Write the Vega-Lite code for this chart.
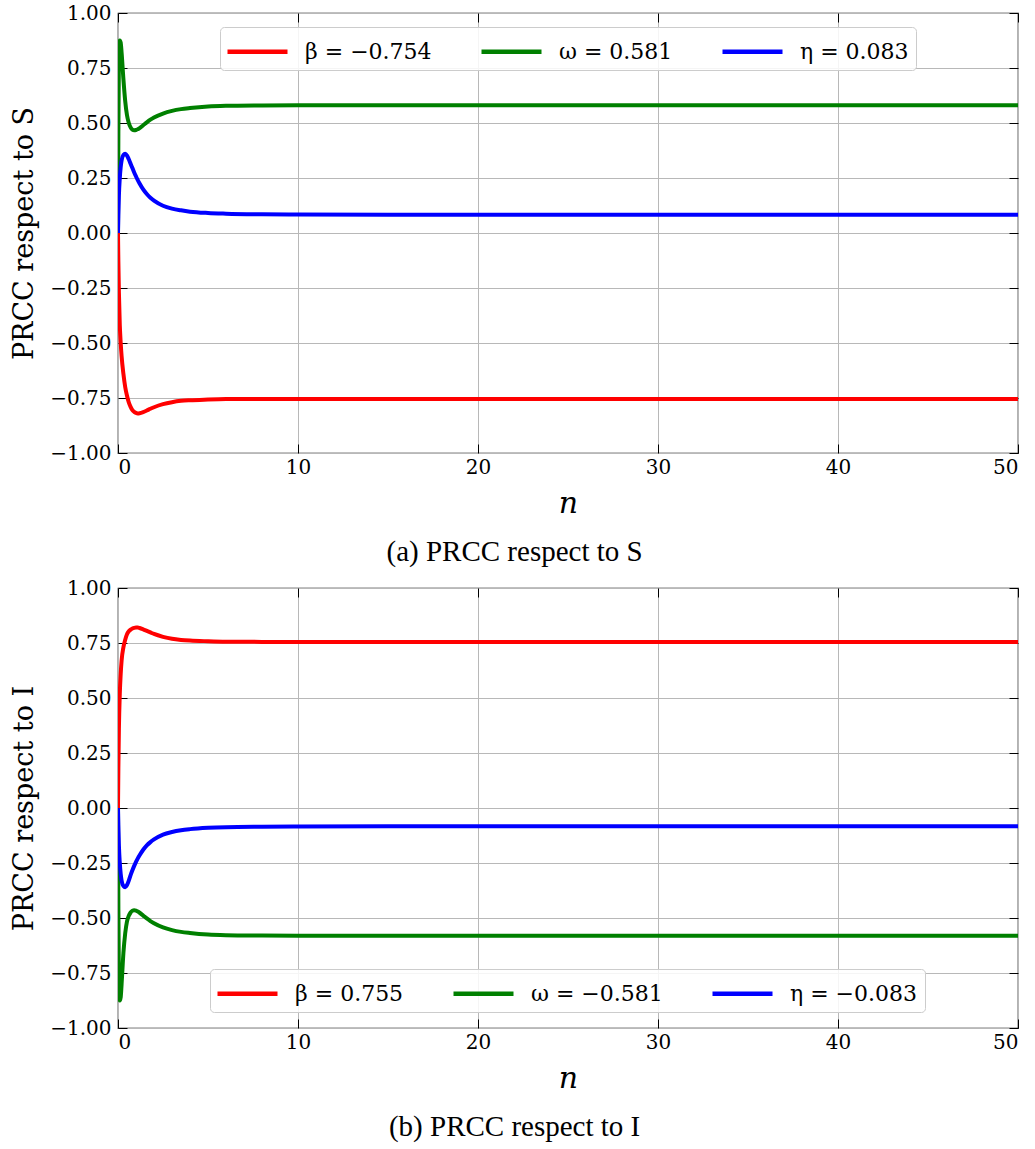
{
  "$schema": "https://vega.github.io/schema/vega-lite/v6.json",
  "background": "white",
  "padding": {"left": 10, "top": 2, "right": 6, "bottom": 5},
  "spacing": 9,
  "config": {
    "view": {"stroke": "black", "strokeWidth": 1.2},
    "axis": {
      "grid": true, "gridColor": "#b8b8b8", "gridWidth": 1,
      "domain": false, "tickSize": -9, "tickColor": "black", "tickWidth": 1,
      "labelColor": "black", "titleFontWeight": "normal", "titleColor": "black"
    },
    "legend": {
      "orient": "none", "direction": "horizontal", "title": null,
      "symbolType": "M-2,0H2", "symbolSize": 900, "symbolStrokeWidth": 4.5,
      "symbolOffset": 13, "labelOffset": 30, "columnPadding": 40,
      "labelColor": "black",
      "fillColor": "rgba(255,255,255,0.85)", "strokeColor": "#cccccc", "cornerRadius": 4, "padding": 7
    },
    "title": {"font": "Liberation Serif", "fontSize": 29, "fontWeight": "normal", "color": "black"}
  },
  "datasets": {
    "S": [
      {"p":"β = −0.754","n":0,"v":0},{"p":"β = −0.754","n":0.02,"v":-0.13},{"p":"β = −0.754","n":0.05,"v":-0.27},{"p":"β = −0.754","n":0.1,"v":-0.42},{"p":"β = −0.754","n":0.15,"v":-0.5},{"p":"β = −0.754","n":0.2,"v":-0.56},{"p":"β = −0.754","n":0.3,"v":-0.64},{"p":"β = −0.754","n":0.4,"v":-0.7},{"p":"β = −0.754","n":0.5,"v":-0.74},{"p":"β = −0.754","n":0.6,"v":-0.77},{"p":"β = −0.754","n":0.7,"v":-0.79},{"p":"β = −0.754","n":0.8,"v":-0.805},{"p":"β = −0.754","n":0.9,"v":-0.813},{"p":"β = −0.754","n":1.0,"v":-0.818},{"p":"β = −0.754","n":1.1,"v":-0.82},{"p":"β = −0.754","n":1.2,"v":-0.819},{"p":"β = −0.754","n":1.4,"v":-0.814},{"p":"β = −0.754","n":1.6,"v":-0.807},{"p":"β = −0.754","n":1.8,"v":-0.799},{"p":"β = −0.754","n":2.0,"v":-0.792},{"p":"β = −0.754","n":2.5,"v":-0.778},{"p":"β = −0.754","n":3,"v":-0.769},{"p":"β = −0.754","n":3.5,"v":-0.763},{"p":"β = −0.754","n":4,"v":-0.76},{"p":"β = −0.754","n":5,"v":-0.757},{"p":"β = −0.754","n":6,"v":-0.755},{"p":"β = −0.754","n":8,"v":-0.754},{"p":"β = −0.754","n":10,"v":-0.754},{"p":"β = −0.754","n":15,"v":-0.754},{"p":"β = −0.754","n":20,"v":-0.754},{"p":"β = −0.754","n":30,"v":-0.754},{"p":"β = −0.754","n":40,"v":-0.754},{"p":"β = −0.754","n":50,"v":-0.754},
      {"p":"ω = 0.581","n":0,"v":0},{"p":"ω = 0.581","n":0.02,"v":0.45},{"p":"ω = 0.581","n":0.05,"v":0.78},{"p":"ω = 0.581","n":0.1,"v":0.875},{"p":"ω = 0.581","n":0.15,"v":0.865},{"p":"ω = 0.581","n":0.2,"v":0.82},{"p":"ω = 0.581","n":0.3,"v":0.7},{"p":"ω = 0.581","n":0.4,"v":0.6},{"p":"ω = 0.581","n":0.5,"v":0.535},{"p":"ω = 0.581","n":0.6,"v":0.5},{"p":"ω = 0.581","n":0.7,"v":0.48},{"p":"ω = 0.581","n":0.8,"v":0.47},{"p":"ω = 0.581","n":0.9,"v":0.467},{"p":"ω = 0.581","n":1.0,"v":0.468},{"p":"ω = 0.581","n":1.1,"v":0.472},{"p":"ω = 0.581","n":1.2,"v":0.477},{"p":"ω = 0.581","n":1.4,"v":0.49},{"p":"ω = 0.581","n":1.6,"v":0.503},{"p":"ω = 0.581","n":1.8,"v":0.515},{"p":"ω = 0.581","n":2.0,"v":0.525},{"p":"ω = 0.581","n":2.5,"v":0.543},{"p":"ω = 0.581","n":3,"v":0.555},{"p":"ω = 0.581","n":3.5,"v":0.563},{"p":"ω = 0.581","n":4,"v":0.568},{"p":"ω = 0.581","n":5,"v":0.575},{"p":"ω = 0.581","n":6,"v":0.578},{"p":"ω = 0.581","n":8,"v":0.58},{"p":"ω = 0.581","n":10,"v":0.581},{"p":"ω = 0.581","n":15,"v":0.581},{"p":"ω = 0.581","n":20,"v":0.581},{"p":"ω = 0.581","n":30,"v":0.581},{"p":"ω = 0.581","n":40,"v":0.581},{"p":"ω = 0.581","n":50,"v":0.581},
      {"p":"η = 0.083","n":0,"v":0},{"p":"η = 0.083","n":0.02,"v":0.08},{"p":"η = 0.083","n":0.05,"v":0.17},{"p":"η = 0.083","n":0.1,"v":0.25},{"p":"η = 0.083","n":0.15,"v":0.3},{"p":"η = 0.083","n":0.2,"v":0.33},{"p":"η = 0.083","n":0.3,"v":0.355},{"p":"η = 0.083","n":0.4,"v":0.36},{"p":"η = 0.083","n":0.5,"v":0.352},{"p":"η = 0.083","n":0.6,"v":0.335},{"p":"η = 0.083","n":0.7,"v":0.315},{"p":"η = 0.083","n":0.8,"v":0.295},{"p":"η = 0.083","n":0.9,"v":0.275},{"p":"η = 0.083","n":1.0,"v":0.257},{"p":"η = 0.083","n":1.1,"v":0.24},{"p":"η = 0.083","n":1.2,"v":0.225},{"p":"η = 0.083","n":1.4,"v":0.198},{"p":"η = 0.083","n":1.6,"v":0.177},{"p":"η = 0.083","n":1.8,"v":0.16},{"p":"η = 0.083","n":2.0,"v":0.147},{"p":"η = 0.083","n":2.5,"v":0.124},{"p":"η = 0.083","n":3,"v":0.111},{"p":"η = 0.083","n":3.5,"v":0.103},{"p":"η = 0.083","n":4,"v":0.097},{"p":"η = 0.083","n":5,"v":0.091},{"p":"η = 0.083","n":6,"v":0.088},{"p":"η = 0.083","n":8,"v":0.085},{"p":"η = 0.083","n":10,"v":0.084},{"p":"η = 0.083","n":15,"v":0.083},{"p":"η = 0.083","n":20,"v":0.083},{"p":"η = 0.083","n":30,"v":0.083},{"p":"η = 0.083","n":40,"v":0.083},{"p":"η = 0.083","n":50,"v":0.083}
    ],
    "I": [
      {"p":"β = 0.755","n":0,"v":0},{"p":"β = 0.755","n":0.02,"v":0.18},{"p":"β = 0.755","n":0.05,"v":0.36},{"p":"β = 0.755","n":0.1,"v":0.52},{"p":"β = 0.755","n":0.15,"v":0.61},{"p":"β = 0.755","n":0.2,"v":0.67},{"p":"β = 0.755","n":0.3,"v":0.73},{"p":"β = 0.755","n":0.4,"v":0.765},{"p":"β = 0.755","n":0.5,"v":0.79},{"p":"β = 0.755","n":0.6,"v":0.803},{"p":"β = 0.755","n":0.7,"v":0.811},{"p":"β = 0.755","n":0.8,"v":0.816},{"p":"β = 0.755","n":0.9,"v":0.819},{"p":"β = 0.755","n":1.0,"v":0.82},{"p":"β = 0.755","n":1.1,"v":0.82},{"p":"β = 0.755","n":1.2,"v":0.818},{"p":"β = 0.755","n":1.4,"v":0.812},{"p":"β = 0.755","n":1.6,"v":0.805},{"p":"β = 0.755","n":1.8,"v":0.798},{"p":"β = 0.755","n":2.0,"v":0.791},{"p":"β = 0.755","n":2.5,"v":0.778},{"p":"β = 0.755","n":3,"v":0.769},{"p":"β = 0.755","n":3.5,"v":0.764},{"p":"β = 0.755","n":4,"v":0.761},{"p":"β = 0.755","n":5,"v":0.758},{"p":"β = 0.755","n":6,"v":0.756},{"p":"β = 0.755","n":8,"v":0.755},{"p":"β = 0.755","n":10,"v":0.755},{"p":"β = 0.755","n":15,"v":0.755},{"p":"β = 0.755","n":20,"v":0.755},{"p":"β = 0.755","n":30,"v":0.755},{"p":"β = 0.755","n":40,"v":0.755},{"p":"β = 0.755","n":50,"v":0.755},
      {"p":"ω = −0.581","n":0,"v":0},{"p":"ω = −0.581","n":0.02,"v":-0.45},{"p":"ω = −0.581","n":0.05,"v":-0.78},{"p":"ω = −0.581","n":0.1,"v":-0.875},{"p":"ω = −0.581","n":0.15,"v":-0.86},{"p":"ω = −0.581","n":0.2,"v":-0.8},{"p":"ω = −0.581","n":0.3,"v":-0.66},{"p":"ω = −0.581","n":0.4,"v":-0.57},{"p":"ω = −0.581","n":0.5,"v":-0.515},{"p":"ω = −0.581","n":0.6,"v":-0.49},{"p":"ω = −0.581","n":0.7,"v":-0.475},{"p":"ω = −0.581","n":0.8,"v":-0.467},{"p":"ω = −0.581","n":0.9,"v":-0.465},{"p":"ω = −0.581","n":1.0,"v":-0.467},{"p":"ω = −0.581","n":1.1,"v":-0.471},{"p":"ω = −0.581","n":1.2,"v":-0.476},{"p":"ω = −0.581","n":1.4,"v":-0.489},{"p":"ω = −0.581","n":1.6,"v":-0.502},{"p":"ω = −0.581","n":1.8,"v":-0.514},{"p":"ω = −0.581","n":2.0,"v":-0.524},{"p":"ω = −0.581","n":2.5,"v":-0.543},{"p":"ω = −0.581","n":3,"v":-0.555},{"p":"ω = −0.581","n":3.5,"v":-0.563},{"p":"ω = −0.581","n":4,"v":-0.568},{"p":"ω = −0.581","n":5,"v":-0.575},{"p":"ω = −0.581","n":6,"v":-0.578},{"p":"ω = −0.581","n":8,"v":-0.58},{"p":"ω = −0.581","n":10,"v":-0.581},{"p":"ω = −0.581","n":15,"v":-0.581},{"p":"ω = −0.581","n":20,"v":-0.581},{"p":"ω = −0.581","n":30,"v":-0.581},{"p":"ω = −0.581","n":40,"v":-0.581},{"p":"ω = −0.581","n":50,"v":-0.581},
      {"p":"η = −0.083","n":0,"v":0},{"p":"η = −0.083","n":0.02,"v":-0.08},{"p":"η = −0.083","n":0.05,"v":-0.17},{"p":"η = −0.083","n":0.1,"v":-0.25},{"p":"η = −0.083","n":0.15,"v":-0.3},{"p":"η = −0.083","n":0.2,"v":-0.33},{"p":"η = −0.083","n":0.3,"v":-0.355},{"p":"η = −0.083","n":0.4,"v":-0.36},{"p":"η = −0.083","n":0.5,"v":-0.35},{"p":"η = −0.083","n":0.6,"v":-0.33},{"p":"η = −0.083","n":0.7,"v":-0.305},{"p":"η = −0.083","n":0.8,"v":-0.283},{"p":"η = −0.083","n":0.9,"v":-0.263},{"p":"η = −0.083","n":1.0,"v":-0.245},{"p":"η = −0.083","n":1.1,"v":-0.229},{"p":"η = −0.083","n":1.2,"v":-0.215},{"p":"η = −0.083","n":1.4,"v":-0.19},{"p":"η = −0.083","n":1.6,"v":-0.17},{"p":"η = −0.083","n":1.8,"v":-0.155},{"p":"η = −0.083","n":2.0,"v":-0.143},{"p":"η = −0.083","n":2.5,"v":-0.121},{"p":"η = −0.083","n":3,"v":-0.109},{"p":"η = −0.083","n":3.5,"v":-0.101},{"p":"η = −0.083","n":4,"v":-0.096},{"p":"η = −0.083","n":5,"v":-0.09},{"p":"η = −0.083","n":6,"v":-0.087},{"p":"η = −0.083","n":8,"v":-0.085},{"p":"η = −0.083","n":10,"v":-0.084},{"p":"η = −0.083","n":15,"v":-0.083},{"p":"η = −0.083","n":20,"v":-0.083},{"p":"η = −0.083","n":30,"v":-0.083},{"p":"η = −0.083","n":40,"v":-0.083},{"p":"η = −0.083","n":50,"v":-0.083}
    ]
  },
  "vconcat": [
    {
      "width": 900, "height": 440,
      "title": {"text": "(a) PRCC respect to S", "orient": "bottom", "anchor": "middle", "frame": "bounds", "offset": 20, "font": "Liberation Serif"},
      "resolve": {"axis": {"x": "independent", "y": "independent"}},
      "layer": [
        {
          "data": {"name": "S"},
          "mark": {"type": "line", "strokeWidth": 4, "interpolate": "monotone", "clip": true},
          "encoding": {
            "x": {"field": "n", "type": "quantitative", "scale": {"domain": [0, 50], "nice": false},
                  "axis": {"orient": "bottom", "values": [0,10,20,30,40,50], "labelPadding": 13, "labelFont": "DejaVu Serif", "labelFontSize": 20, "title": "n", "titleFont": "DejaVu Serif", "titleFontSize": 30, "titleFontStyle": "italic", "titlePadding": 11}},
            "y": {"field": "v", "type": "quantitative", "scale": {"domain": [-1, 1], "nice": false},
                  "axis": {"orient": "left", "values": [-1,-0.75,-0.5,-0.25,0,0.25,0.5,0.75,1], "format": ".2f", "labelPadding": 16, "labelFont": "DejaVu Serif", "labelFontSize": 20, "title": "PRCC respect to S", "titleFont": "DejaVu Serif", "titleFontSize": 27, "titlePadding": 11}},
            "color": {"field": "p", "type": "nominal",
                      "scale": {"domain": ["β = −0.754", "ω = 0.581", "η = 0.083"], "range": ["#ff0000", "#008000", "#0000ff"]},
                      "legend": {"legendX": 102, "legendY": 14, "labelFont": "DejaVu Serif", "labelFontSize": 22}},
            "order": {"field": "n", "type": "quantitative"}
          }
        },
        {
          "data": {"values": [{"n": 0, "v": 0}]},
          "mark": {"type": "point", "opacity": 0},
          "encoding": {
            "x": {"field": "n", "type": "quantitative", "axis": {"orient": "top", "values": [0,10,20,30,40,50], "labels": false, "grid": false, "title": null}},
            "y": {"field": "v", "type": "quantitative", "axis": {"orient": "right", "values": [-1,-0.75,-0.5,-0.25,0,0.25,0.5,0.75,1], "labels": false, "grid": false, "title": null}}
          }
        }
      ]
    },
    {
      "width": 900, "height": 440,
      "title": {"text": "(b) PRCC respect to I", "orient": "bottom", "anchor": "middle", "frame": "bounds", "offset": 20, "font": "Liberation Serif"},
      "resolve": {"axis": {"x": "independent", "y": "independent"}},
      "layer": [
        {
          "data": {"name": "I"},
          "mark": {"type": "line", "strokeWidth": 4, "interpolate": "monotone", "clip": true},
          "encoding": {
            "x": {"field": "n", "type": "quantitative", "scale": {"domain": [0, 50], "nice": false},
                  "axis": {"orient": "bottom", "values": [0,10,20,30,40,50], "labelPadding": 13, "labelFont": "DejaVu Serif", "labelFontSize": 20, "title": "n", "titleFont": "DejaVu Serif", "titleFontSize": 30, "titleFontStyle": "italic", "titlePadding": 11}},
            "y": {"field": "v", "type": "quantitative", "scale": {"domain": [-1, 1], "nice": false},
                  "axis": {"orient": "left", "values": [-1,-0.75,-0.5,-0.25,0,0.25,0.5,0.75,1], "format": ".2f", "labelPadding": 16, "labelFont": "DejaVu Serif", "labelFontSize": 20, "title": "PRCC respect to I", "titleFont": "DejaVu Serif", "titleFontSize": 27, "titlePadding": 11}},
            "color": {"field": "p", "type": "nominal",
                      "scale": {"domain": ["β = 0.755", "ω = −0.581", "η = −0.083"], "range": ["#ff0000", "#008000", "#0000ff"]},
                      "legend": {"legendX": 92, "legendY": 381, "labelFont": "DejaVu Serif", "labelFontSize": 22}},
            "order": {"field": "n", "type": "quantitative"}
          }
        },
        {
          "data": {"values": [{"n": 0, "v": 0}]},
          "mark": {"type": "point", "opacity": 0},
          "encoding": {
            "x": {"field": "n", "type": "quantitative", "axis": {"orient": "top", "values": [0,10,20,30,40,50], "labels": false, "grid": false, "title": null}},
            "y": {"field": "v", "type": "quantitative", "axis": {"orient": "right", "values": [-1,-0.75,-0.5,-0.25,0,0.25,0.5,0.75,1], "labels": false, "grid": false, "title": null}}
          }
        }
      ]
    }
  ],
  "resolve": {"scale": {"color": "independent"}, "legend": {"color": "independent"}}
}
